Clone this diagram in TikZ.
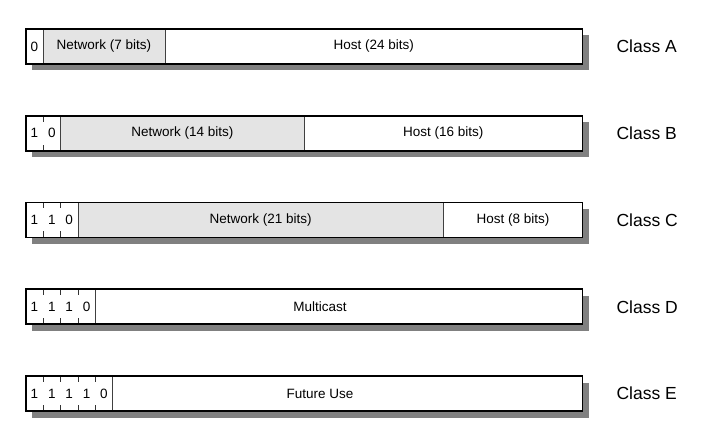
\documentclass[tikz,border=0pt]{standalone}
\usepackage{fontspec}
\setmainfont{Liberation Sans}
\usetikzlibrary{positioning}
\usetikzlibrary{backgrounds}
\definecolor{netgray}{HTML}{E4E4E4}
\definecolor{shadowgray}{HTML}{808080}
\tikzset{x=1pt, y=-1pt, % one unit is one pixel of the picture
  node distance=0pt,
  every node/.style={inner sep=0pt, outer sep=0pt,
    font=\fontsize{13.5}{15}\selectfont},
  bitcell/.style={ % one bit of the class prefix
    minimum width=17.4pt, minimum height=35pt, anchor=west, fill=white},
  field/.style={ % network or host part of the address
    draw=black!75, line width=0.8pt, minimum height=35pt, fill=white},
  netfield/.style={field, fill=netgray},
  outline/.style={draw=black, line width=1.8pt},
  tick/.style={draw=black!80, line width=0.8pt},
  classlabel/.style={font=\fontsize{17.5}{20}\selectfont, anchor=west}}

\begin{document}
\begin{tikzpicture}
  \useasboundingbox (0,0) rectangle (721,441);

  % Class A
  \node [bitcell] (a1) at (25.7,46.5) {0};
  \node [netfield, minimum width=121.8pt, right=of a1] (anet) {Network (7 bits)};
  \node [field, minimum width=417.6pt, right=of anet] (ahost) {Host (24 bits)};
  \draw [outline] (a1.north west) rectangle (ahost.south east);
  \node [classlabel, right=34pt of ahost] (clA) {Class A};

  % Class B
  \foreach \v [count=\i] in {1,0}
    \node [bitcell] (b\i) at (25.7+17.4*\i-17.4,133.25) {\v};
  \node [netfield, minimum width=243.6pt, right=of b2] (bnet) {Network (14 bits)};
  \node [field, minimum width=278.4pt, right=of bnet] (bhost) {Host (16 bits)};
  \draw [tick] (b1.north east) -- ++(0,6) (b1.south east) -- ++(0,-6);
  \draw [outline] (b1.north west) rectangle (bhost.south east);
  \node [classlabel, right=34pt of bhost] (clB) {Class B};

  % Class C
  \foreach \v [count=\i] in {1,1,0}
    \node [bitcell] (c\i) at (25.7+17.4*\i-17.4,220) {\v};
  \node [netfield, minimum width=365.4pt, right=of c3] (cnet) {Network (21 bits)};
  \node [field, minimum width=139.2pt, right=of cnet] (chost) {Host (8 bits)};
  \foreach \i in {1,2}
    \draw [tick] (c\i.north east) -- ++(0,6) (c\i.south east) -- ++(0,-6);
  \draw [outline] (c1.north west) rectangle (chost.south east);
  \node [classlabel, right=34pt of chost] (clC) {Class C};

  % Class D
  \foreach \v [count=\i] in {1,1,1,0}
    \node [bitcell] (d\i) at (25.7+17.4*\i-17.4,306.75) {\v};
  \node [field, minimum width=487.2pt, right=of d4] (dmc) {};
  \node [xshift=-19pt] at (dmc.center) (dtext) {Multicast};
  \foreach \i in {1,2,3}
    \draw [tick] (d\i.north east) -- ++(0,6) (d\i.south east) -- ++(0,-6);
  \draw [outline] (d1.north west) rectangle (dmc.south east);
  \node [classlabel, right=34pt of dmc] (clD) {Class D};

  % Class E
  \foreach \v [count=\i] in {1,1,1,1,0}
    \node [bitcell] (e\i) at (25.7+17.4*\i-17.4,393.5) {\v};
  \node [field, minimum width=469.8pt, right=of e5] (efu) {};
  \node [xshift=-27.5pt] at (efu.center) (etext) {Future Use};
  \foreach \i in {1,...,4}
    \draw [tick] (e\i.north east) -- ++(0,6) (e\i.south east) -- ++(0,-6);
  \draw [outline] (e1.north west) rectangle (efu.south east);
  \node [classlabel, right=34pt of efu] (clE) {Class E};

  % drop shadows
  \begin{scope}[on background layer]
    \fill [shadowgray] ([shift={(6.5,6.5)}]a1.north west) rectangle ([shift={(6.5,6.5)}]ahost.south east);
    \fill [shadowgray] ([shift={(6.5,6.5)}]b1.north west) rectangle ([shift={(6.5,6.5)}]bhost.south east);
    \fill [shadowgray] ([shift={(6.5,6.5)}]c1.north west) rectangle ([shift={(6.5,6.5)}]chost.south east);
    \fill [shadowgray] ([shift={(6.5,6.5)}]d1.north west) rectangle ([shift={(6.5,6.5)}]dmc.south east);
    \fill [shadowgray] ([shift={(6.5,6.5)}]e1.north west) rectangle ([shift={(6.5,6.5)}]efu.south east);
  \end{scope}
\end{tikzpicture}
\end{document}
